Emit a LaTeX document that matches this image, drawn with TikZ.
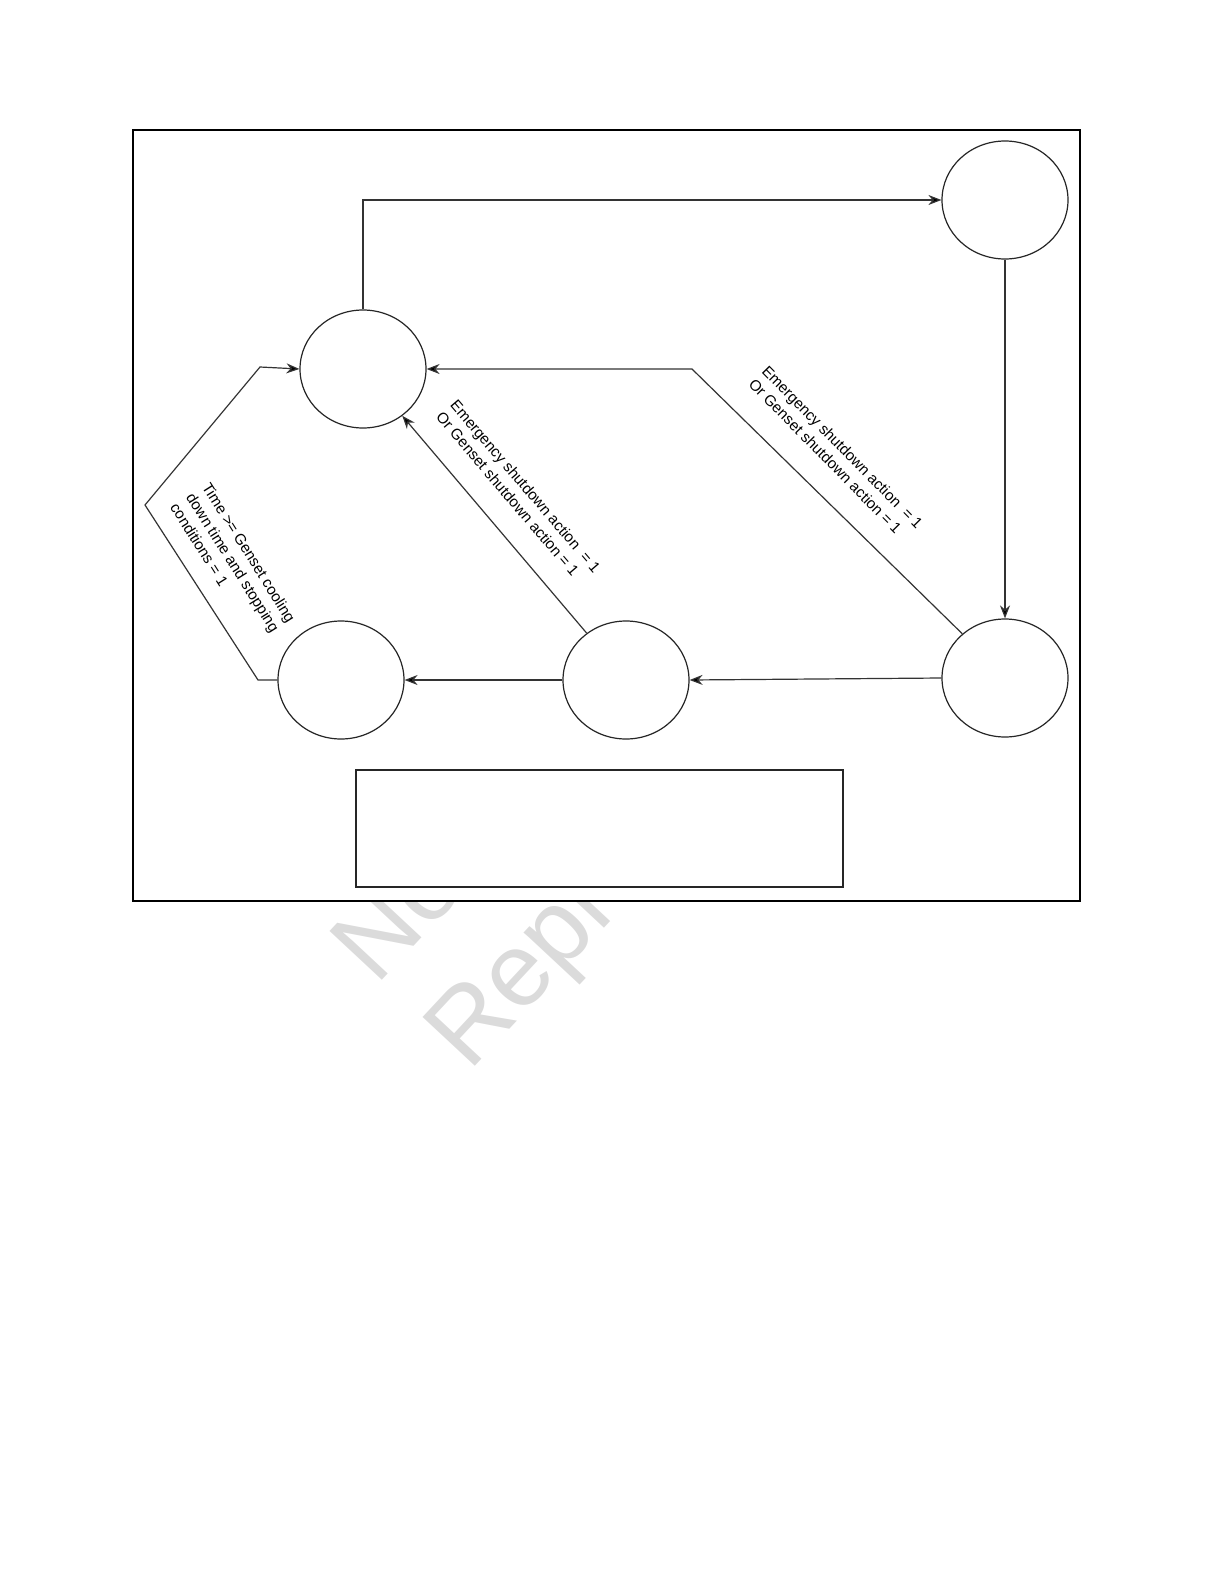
\documentclass[tikz,border=0pt]{standalone}
\usepackage{fontspec}
\setmainfont{Liberation Sans}
\usetikzlibrary{shapes.geometric, arrows.meta}

\begin{document}
\begin{tikzpicture}[x=0.5pt, y=-0.5pt,
    state/.style={draw=black!85, ellipse, line width=0.6pt, minimum width=63pt, minimum height=59pt, inner sep=0pt},
    conn/.style={draw=black!80, line width=0.6pt, -{Stealth[length=6.5pt,width=5pt,fill=black]}},
    cond/.style={align=left, inner sep=0pt, anchor=north west, font=\fontsize{7.6}{9.4}\selectfont},
    wmark/.style={align=left, inner sep=0pt, anchor=north west, text=black!14, font=\fontsize{52}{63}\selectfont}
  ]
    \useasboundingbox (0,0) rectangle (1224,1584);

    \node[wmark, rotate=47] (wm) at (324,938) {No\\Repro};

    \draw[line width=1.2pt, fill=white] (133,130) rectangle (1080,901);

    \node[state] (idle) at (363,369) {};
    \node[state] (starting) at (1005,200) {};
    \node[state] (running) at (1005,678) {};
    \node[state] (cooling) at (626,680) {};
    \node[state] (stopping) at (341,680) {};

    \node[draw=black!85, line width=0.8pt, minimum width=243.5pt, minimum height=58.5pt] (legend) at (599.5,828.5) {};

    \coordinate (knee) at (692,369);
    \coordinate (s1) at (258,680);
    \coordinate (s2) at (145,505);
    \coordinate (s3) at (260,367);

    \draw[conn] (idle.north) |- (starting.west);
    \draw[conn] (starting.south) -- (running.north);
    \draw[conn] (running.west) -- (cooling.east);
    \draw[conn] (cooling.west) -- (stopping.east);
    \draw[conn] (stopping.west) -- (s1) -- (s2) -- (s3) -- (idle.west);
    \draw[conn] (cooling.130) -- (idle.-50);
    \draw[conn] (running.134) -- (knee) -- (idle.east);

    \node[cond, rotate=-45.4] (esd1) at (769,364) {Emergency shutdown action \ = 1\\Or Genset shutdown action = 1};
    \node[cond, rotate=-49.4] (esd2) at (458,398) {Emergency shutdown action \ = 1\\Or Genset shutdown action = 1};
    \node[cond, rotate=-57.8] (cooldown) at (211,481) {Time >= Genset cooling\\down time and stopping\\conditions = 1};
\end{tikzpicture}
\end{document}
